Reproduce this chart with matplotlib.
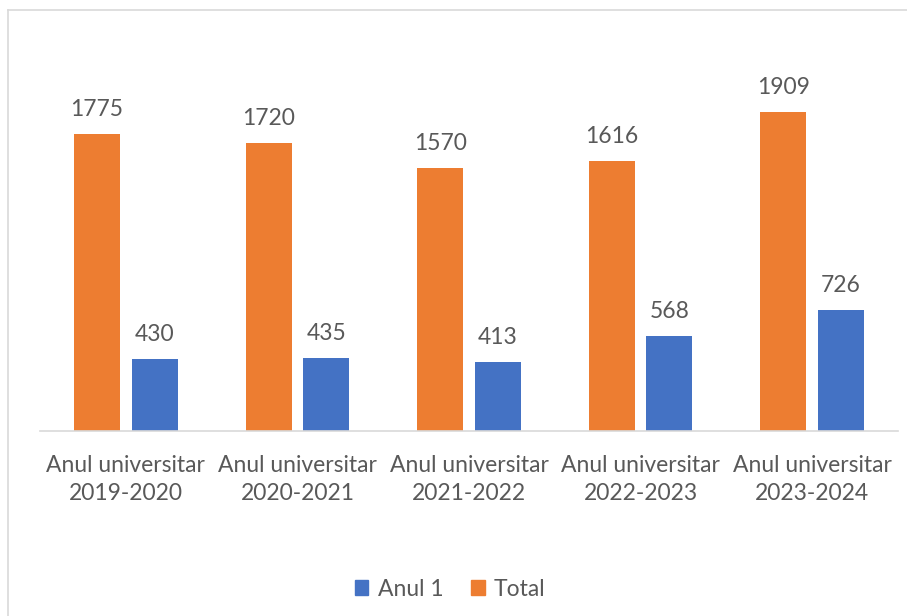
import numpy as np
import matplotlib.pyplot as plt
from matplotlib.lines import Line2D
from matplotlib.patches import Patch

plt.rcParams['font.family'] = ['Lato', 'DejaVu Sans']

# ===== data =====
categories = ['Anul universitar\n2019-2020', 'Anul universitar\n2020-2021',
              'Anul universitar\n2021-2022', 'Anul universitar\n2022-2023',
              'Anul universitar\n2023-2024']
total = [1775, 1720, 1570, 1616, 1909]
anul1 = [430, 435, 413, 568, 726]

orange = '#ED7D31'
blue = '#4472C4'
grey = '#595959'

fig = plt.figure(figsize=(9.07, 6.16), dpi=100)
W, H = 907, 616
ax = fig.add_axes([40 / W, 185 / H, 858 / W, 334.6 / H])

x = np.arange(len(categories))
w = 0.268
off = 0.168
b1 = ax.bar(x - off, total, w, color=orange, label='Total', zorder=2)
b2 = ax.bar(x + off, anul1, w, color=blue, label='Anul 1', zorder=2)

for bars in (b1, b2):
    for r in bars:
        ax.annotate(f'{int(r.get_height())}', (r.get_x() + r.get_width() / 2, r.get_height()),
                    xytext=(0, 10), textcoords='offset points', ha='center', va='bottom',
                    fontsize=16.5, color=grey, annotation_clip=False)

ax.set_xlim(-0.5, len(categories) - 0.5)
ax.set_ylim(0, 2000)
ax.set_xticks(x)
ax.set_xticklabels(categories, fontsize=16.5, color=grey, linespacing=1.45)
ax.tick_params(axis='x', length=0, pad=17)
ax.set_yticks([])
for s in ['top', 'right', 'left']:
    ax.spines[s].set_visible(False)
ax.spines['bottom'].set_color('#D9D9D9')
ax.spines['bottom'].set_linewidth(1.2)
ax.patch.set_alpha(0)

# ===== chart frame (top and left edges of the Excel chart area) =====
fig.add_artist(Line2D([8 / W, 1], [1 - 10 / H, 1 - 10 / H], color='#D9D9D9', lw=1.2))
fig.add_artist(Line2D([8 / W, 8 / W], [0, 1 - 10 / H], color='#D9D9D9', lw=1.2))

handles = [Patch(color=blue, label='Anul 1'), Patch(color=orange, label='Total')]
fig.legend(handles=handles, loc='center', bbox_to_anchor=(450 / W, 1 - 589 / H), ncol=2,
           frameon=False, fontsize=16.5, handlelength=0.6, handleheight=0.6,
           handletextpad=0.4, columnspacing=1.2, labelcolor=grey)

fig.savefig('out.png', dpi=100, facecolor='white')
